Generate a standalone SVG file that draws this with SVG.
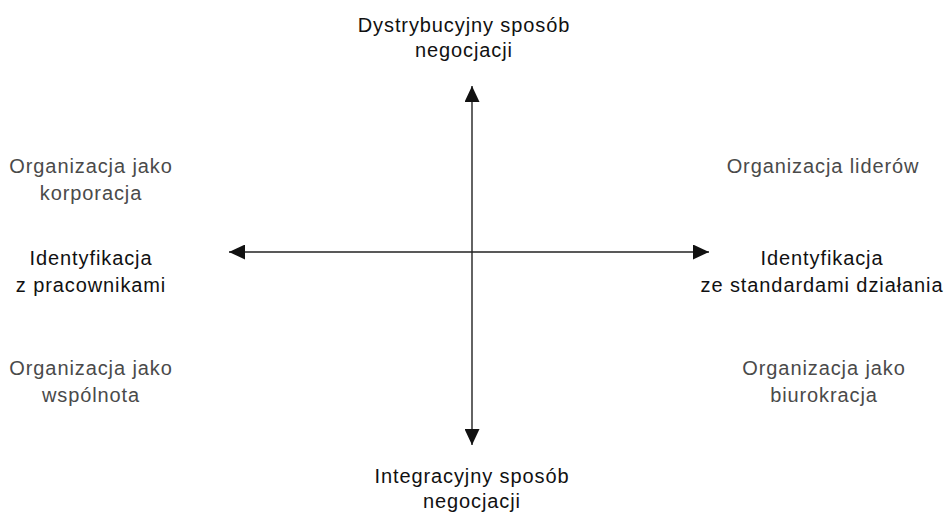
<svg xmlns="http://www.w3.org/2000/svg" width="946" height="517" viewBox="0 0 946 517">
<style>
text{font-family:"Liberation Sans",Arial,sans-serif;font-size:20px;letter-spacing:0.9px;text-anchor:middle}
.b{fill:#111}
.g{fill:#4a4a4a}
.ax{stroke:#222;stroke-width:1.4;fill:none}
</style>
<defs>
<marker id="ah" viewBox="0 0 16 15" refX="16" refY="7.5" markerWidth="16" markerHeight="15" markerUnits="userSpaceOnUse" orient="auto">
<path d="M0,0 L16,7.5 L0,15 Z" fill="#111"/>
</marker>
</defs>
<rect width="946" height="517" fill="#fff"/>
<g id="connectors">
<line class="ax" x1="472" y1="252" x2="472" y2="86" marker-end="url(#ah)"/>
<line class="ax" x1="472" y1="252" x2="472" y2="445" marker-end="url(#ah)"/>
<line class="ax" x1="472" y1="252" x2="229" y2="252" marker-end="url(#ah)"/>
<line class="ax" x1="472" y1="252" x2="709" y2="252" marker-end="url(#ah)"/>
</g>
<g id="top"><text class="b" x="464" y="32">Dystrybucyjny sposób</text><text class="b" x="464" y="57">negocjacji</text></g>
<g id="bottom"><text class="b" x="472" y="483">Integracyjny sposób</text><text class="b" x="472" y="508">negocjacji</text></g>
<g id="left"><text class="b" x="91" y="265">Identyfikacja</text><text class="b" x="91" y="292">z pracownikami</text></g>
<g id="right"><text class="b" x="822" y="265">Identyfikacja</text><text class="b" x="822" y="292">ze standardami działania</text></g>
<g id="q1"><text class="g" x="91" y="173">Organizacja jako</text><text class="g" x="91" y="200">korporacja</text></g>
<g id="q2"><text class="g" x="823" y="173">Organizacja liderów</text></g>
<g id="q3"><text class="g" x="91" y="375">Organizacja jako</text><text class="g" x="91" y="402">wspólnota</text></g>
<g id="q4"><text class="g" x="824" y="375">Organizacja jako</text><text class="g" x="824" y="402">biurokracja</text></g>
</svg>
